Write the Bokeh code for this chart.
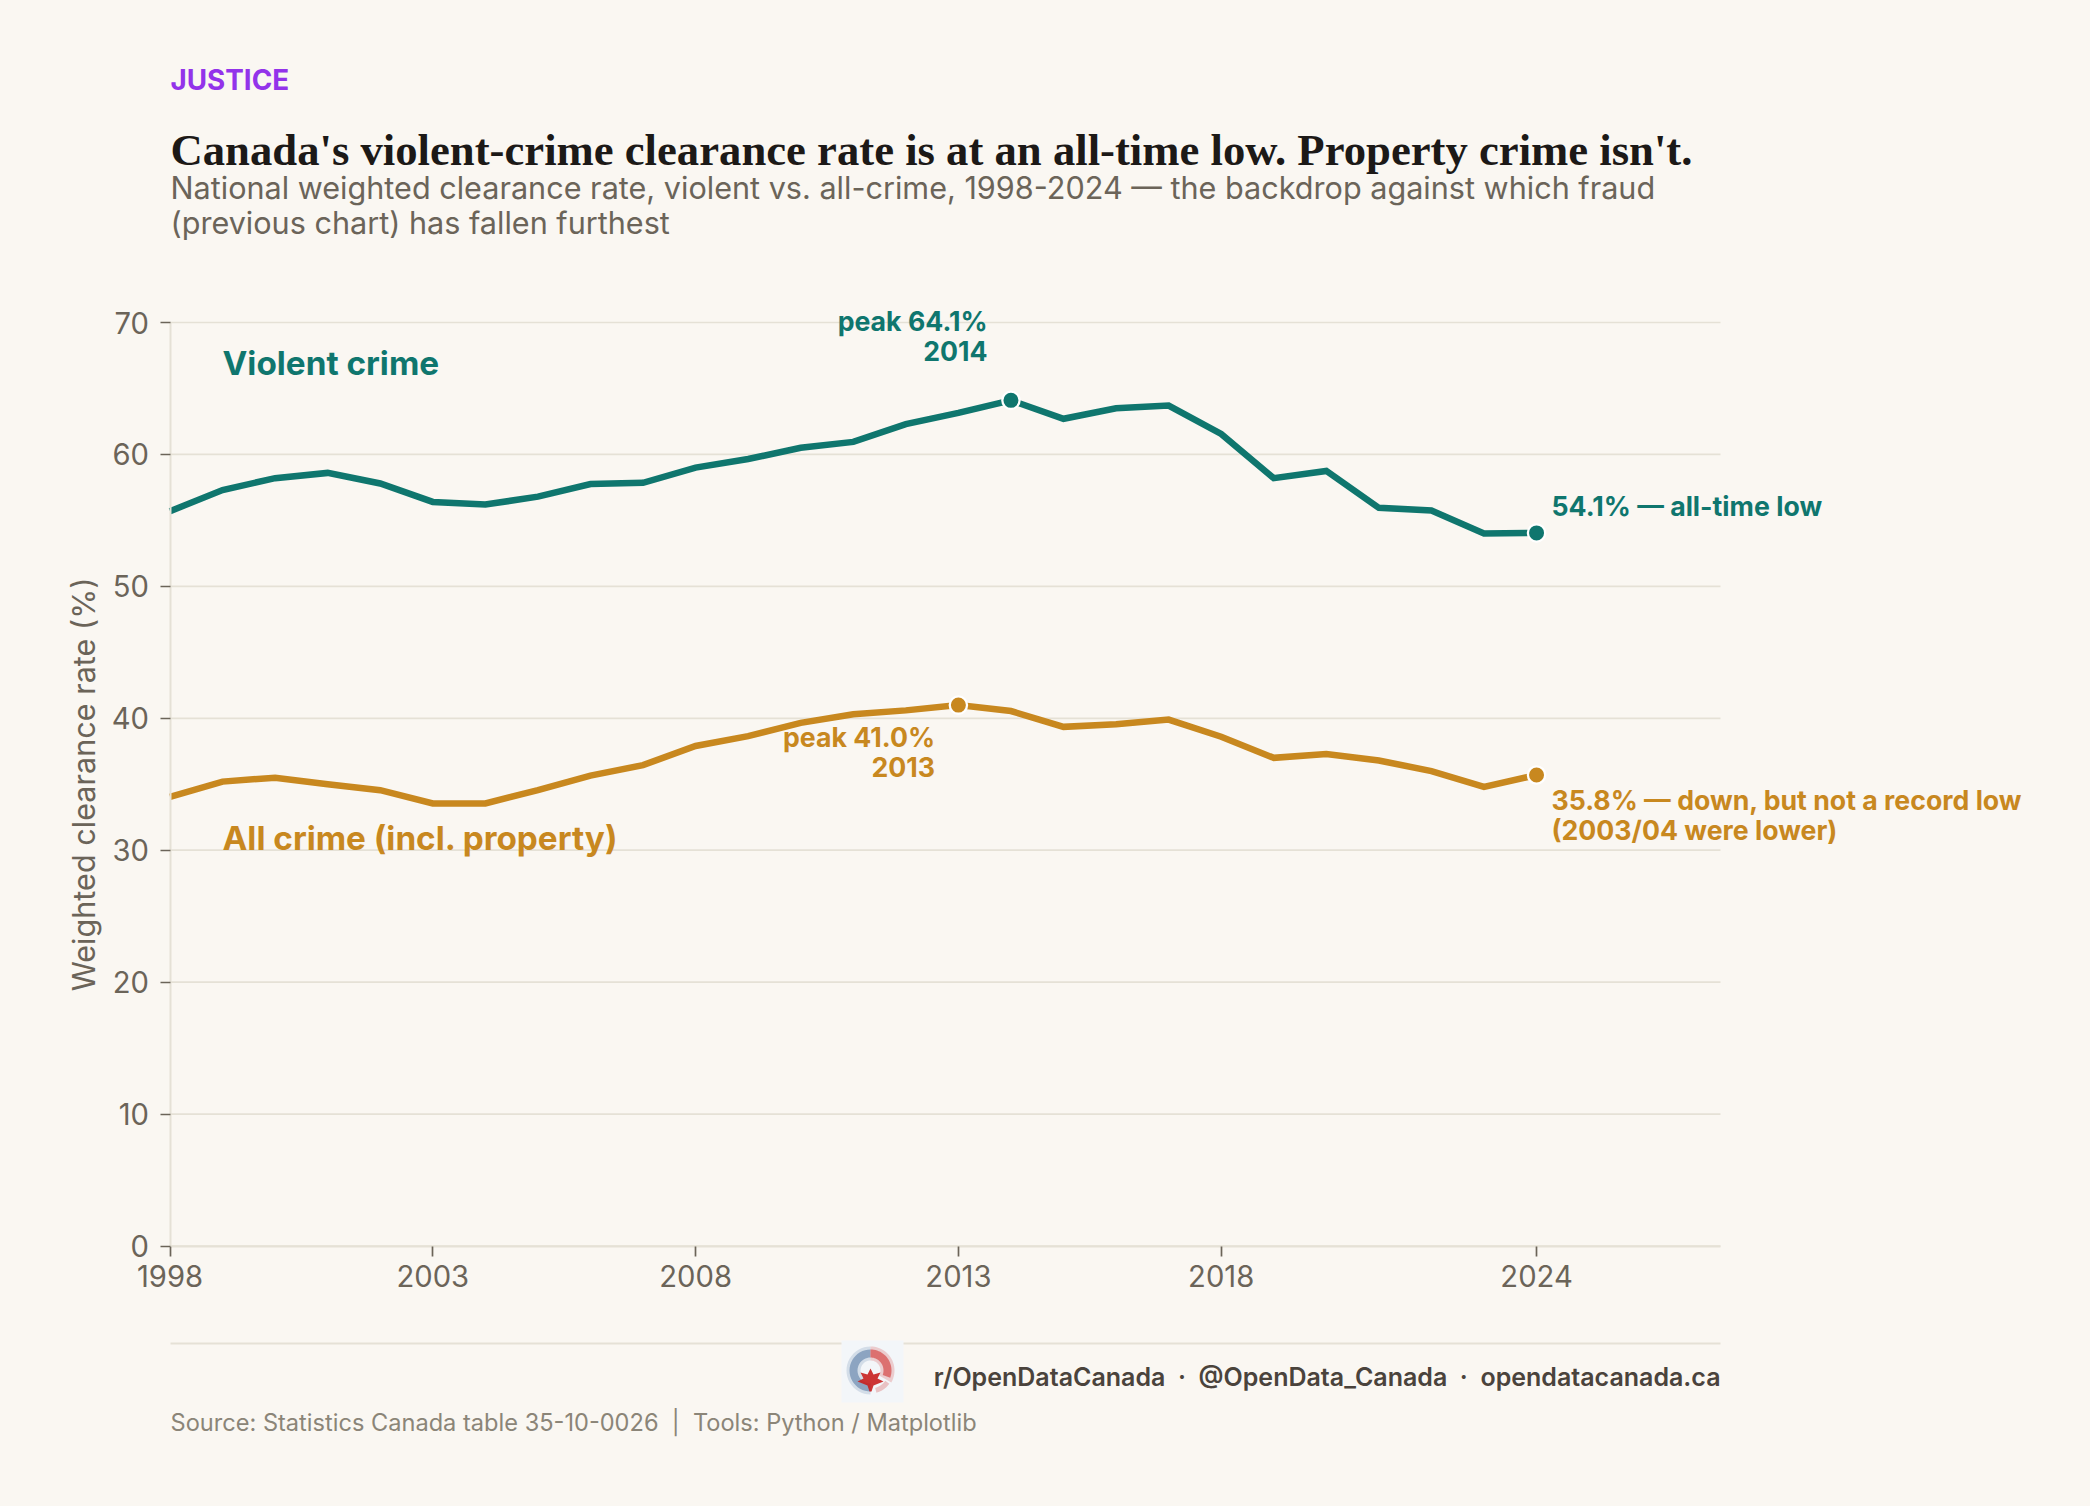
import math
from bokeh.plotting import figure
from bokeh.embed import file_html
from bokeh.resources import INLINE
from bokeh.models import (Range1d, FixedTicker, Label, PolyAnnotation, GlobalInlineStyleSheet)

YEARS = list(range(1998, 2025))
VIOLENT = [55.7, 57.3, 58.2, 58.6, 57.8, 56.4, 56.2, 56.8, 57.75, 57.85, 59.0, 59.65, 60.5, 60.95,
           62.3, 63.15, 64.1, 62.7, 63.5, 63.7, 61.55, 58.2, 58.75, 55.95, 55.75, 54.0, 54.05]
ALL_CRIME = [34.05, 35.2, 35.5, 35.0, 34.55, 33.55, 33.55, 34.55, 35.65, 36.45, 37.9, 38.65, 39.65, 40.3,
             40.6, 41.0, 40.55, 39.35, 39.55, 39.9, 38.6, 37.0, 37.3, 36.8, 36.0, 34.8, 35.7]
X_TICKS = [1998, 2003, 2008, 2013, 2018, 2024]
Y_TICKS = [0, 10, 20, 30, 40, 50, 60, 70]
V_DOTS = [2014, 2024]
A_DOTS = [2013, 2024]
X_LO, X_HI = 1998, 2027.5

BG = "#FAF7F2"; TEAL = "#0F766E"; GOLD = "#C8881F"; GRID = "#E5E1D6"; MUTED = "#6B6459"

# plot-area edges in page pixels; the Bokeh frame fills the canvas so that
# texts and the footer outside the plot area are not clipped.
FL, FR, FT, FB = 169.5, 1720, 322, 1245.5
W, H = 2090, 1506
XS = (FR - FL) / (X_HI - X_LO)
YS = (FB - FT) / 70.0

p = figure(width=W, height=H, output_backend="svg", toolbar_location=None,
           x_range=Range1d(X_LO - FL / XS, X_HI + (W - FR) / XS),
           y_range=Range1d(-(H - FB) / YS, 70 + FT / YS),
           min_border=0, background_fill_color=BG, border_fill_color=BG, outline_line_color=None,
           stylesheets=[GlobalInlineStyleSheet(css="html,body{background:%s;margin:0}" % BG)])

p.grid.visible = False
p.segment(x0=[X_LO] * len(Y_TICKS), x1=[X_HI] * len(Y_TICKS), y0=Y_TICKS, y1=Y_TICKS,
          line_color=GRID, line_width=1.7)

for ax, ticks, bounds in ((p.xaxis[0], X_TICKS, (X_LO, X_HI)), (p.yaxis[0], Y_TICKS, (0, 70))):
    ax.ticker = FixedTicker(ticks=ticks)
    ax.bounds = bounds
    ax.axis_line_color = GRID
    ax.axis_line_width = 2
    ax.major_tick_line_color = MUTED
    ax.major_tick_line_width = 1.7
    ax.major_tick_in = 0
    ax.major_tick_out = 10
    ax.minor_tick_line_color = None
    ax.major_label_text_font = "Inter"
    ax.major_label_text_font_size = "29.2px"
    ax.major_label_text_color = MUTED
p.xaxis[0].fixed_location = 0
p.yaxis[0].fixed_location = X_LO
p.xaxis[0].major_label_standoff = 9
p.yaxis[0].major_label_standoff = 11
p.yaxis[0].axis_label = "Weighted clearance rate (%)"
p.yaxis[0].axis_label_text_font = "Inter"
p.yaxis[0].axis_label_text_font_size = "30.6px"
p.yaxis[0].axis_label_text_font_style = "normal"
p.yaxis[0].axis_label_text_color = MUTED
p.yaxis[0].axis_label_standoff = 7

p.line(YEARS, VIOLENT, line_color=TEAL, line_width=6.5, line_join="miter")
p.line(YEARS, ALL_CRIME, line_color=GOLD, line_width=6.5, line_join="miter")
p.scatter(V_DOTS, [VIOLENT[YEARS.index(y)] for y in V_DOTS], size=17.3, fill_color=TEAL,
          line_color="#FFFFFF", line_width=2.3)
p.scatter(A_DOTS, [ALL_CRIME[YEARS.index(y)] for y in A_DOTS], size=17.3, fill_color=GOLD,
          line_color="#FFFFFF", line_width=2.3)


def lab(text, px, py, size, color, font="Inter", style="normal", align="left"):
    p.add_layout(Label(x=px, y=H - py, x_units="screen", y_units="screen", text=text,
                       text_font=font, text_font_size=f"{size}px", text_font_style=style,
                       text_color=color, text_align=align, text_baseline="alphabetic"))


def poly(xs, ys, color, alpha=1.0):
    p.add_layout(PolyAnnotation(xs=list(xs), ys=[H - y for y in ys],
                                xs_units="screen", ys_units="screen", fill_color=color, fill_alpha=alpha,
                                line_color=None))


lab("JUSTICE", 170, 79, 27.8, "#9333EA", style="bold")
lab("Canada's violent-crime clearance rate is at an all-time low. Property crime isn't.", 170, 149, 44.7,
    "#1C1917", font="Liberation Serif", style="bold")
lab("National weighted clearance rate, violent vs. all-crime, 1998-2024 \u2014 the backdrop against which fraud",
    170, 186.5, 30.6, MUTED)
lab("(previous chart) has fallen furthest", 170, 221.5, 30.6, MUTED)

lab("Violent crime", 222, 362, 33.3, TEAL, style="bold")
lab("All crime (incl. property)", 222, 837, 33.3, GOLD, style="bold")
lab("peak 64.1%", 987, 320.5, 26.7, TEAL, style="bold", align="right")
lab("2014", 987, 350, 26.7, TEAL, style="bold", align="right")
lab("peak 41.0%", 934.5, 736.5, 26.7, GOLD, style="bold", align="right")
lab("2013", 934.5, 766, 26.7, GOLD, style="bold", align="right")
lab("54.1% \u2014 all-time low", 1551, 505.5, 26.7, TEAL, style="bold")
lab("35.8% \u2014 down, but not a record low", 1551, 799.5, 26.7, GOLD, style="bold")
lab("(2003/04 were lower)", 1551, 829.5, 26.7, GOLD, style="bold")

# footer rule
poly([170, 1720, 1720, 170], [1342, 1342, 1344, 1344], GRID)
# logo
poly([841, 903, 903, 841], [1340, 1340, 1402, 1402], "#F3F6F9")
CX, CY, RO, RI = 870, 1370, 21, 13


def ring(a0, a1, color, ro=RO, ri=RI, alpha=1.0):
    n = 24
    angs = [math.radians(a0 + (a1 - a0) * i / n) for i in range(n + 1)]
    xs = [CX + ro * math.sin(a) for a in angs] + [CX + ri * math.sin(a) for a in reversed(angs)]
    ys = [CY - ro * math.cos(a) for a in angs] + [CY - ri * math.cos(a) for a in reversed(angs)]
    poly(xs, ys, color, alpha)


ring(180, 360, "#8BA3C0", ro=24, ri=10, alpha=0.3)
ring(0, 120, "#DB6A6A", ro=24, ri=10, alpha=0.3)
ring(180, 360, "#7F9ABA", alpha=0.85)
ring(0, 110, "#D95F5F", alpha=0.85)
ring(125, 165, "#E3A0A0", ro=23, ri=18, alpha=0.6)
poly([870, 873, 880, 877, 883, 873, 871, 869, 867, 857, 863, 860, 867],
     [1368, 1374, 1372, 1378, 1381, 1385, 1391, 1391, 1385, 1381, 1378, 1372, 1374], "#C8201F", 0.9)

lab("r/OpenDataCanada \u00a0\u00b7\u00a0 @OpenData_Canada \u00a0\u00b7\u00a0 opendatacanada.ca", 1720, 1376, 25,
    "#4A433C", font="'Inter SemiBold', Inter", align="right")
lab("Source: Statistics Canada table 35-10-0026 \u00a0|\u00a0 Tools: Python / Matplotlib", 170, 1422, 23.6, "#8B8578")

open("out.html", "w").write(file_html(p, INLINE))
